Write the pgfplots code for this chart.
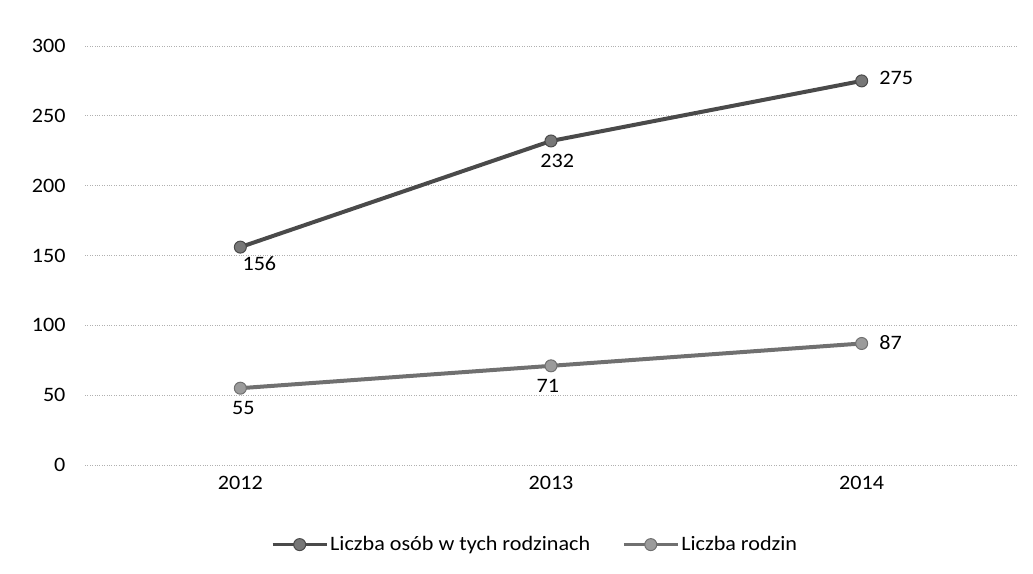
\documentclass[border=0pt]{standalone}
\usepackage{fontspec}
\setmainfont{Carlito}[FakeStretch=1.08]
\usepackage{pgfplots}
\pgfplotsset{compat=1.18}
\definecolor{lineA}{HTML}{4A4A4A}
\definecolor{lineB}{HTML}{707070}
\definecolor{gridc}{HTML}{B0B0B0}
\begin{document}
\begin{tikzpicture}
\useasboundingbox (0,0) rectangle (1033pt,573pt);
\begin{axis}[
  at={(85pt,108pt)}, anchor=south west,
  scale only axis,
  width=932pt, height=419pt,
  xmin=-0.5, xmax=2.5,
  ymin=0, ymax=300,
  ytick={0,50,...,300},
  xtick={0,1,2},
  xticklabels={2012,2013,2014},
  axis line style={draw=none},
  tick style={draw=none},
  ymajorgrids,
  grid style={gridc, dotted, line width=1pt},
  font=\fontsize{20.5}{24}\selectfont,
  /pgf/number format/assume math mode=true,
  yticklabel style={xshift=-16pt},
  xticklabel style={yshift=-8pt},
  legend style={at={(0.483,-0.19)}, anchor=center, draw=none, fill=none,
    legend columns=2, font=\fontsize{20.5}{24}\selectfont,
    /tikz/every even column/.append style={column sep=30pt}},
  legend cell align=left,
  legend image code/.code={%
    \draw[mark repeat=2, mark phase=2, line width=3pt] plot coordinates {(0pt,0pt) (27pt,0pt) (54pt,0pt)};},
  clip=false,
]
\addplot[lineA, line width=4pt, mark=*, mark size=6pt, mark options={fill=lineA!75, draw=lineA, line width=1pt}]
  coordinates {(0,156) (1,232) (2,275)};
\addlegendentry{Liczba osób w tych rodzinach}
\addplot[lineB, line width=4pt, mark=*, mark size=6pt, mark options={fill=lineB!70, draw=lineB, line width=1pt}]
  coordinates {(0,55) (1,71) (2,87)};
\addlegendentry{Liczba rodzin}
\node[anchor=north west, inner sep=2pt] at (axis cs:0,151) {156};
\node[anchor=north, inner sep=2pt] at (axis cs:1.02,224) {232};
\node[anchor=west, inner sep=2pt] at (axis cs:2.05,277) {275};
\node[anchor=north, inner sep=2pt] at (axis cs:0.01,47) {55};
\node[anchor=north, inner sep=2pt] at (axis cs:0.99,63) {71};
\node[anchor=west, inner sep=2pt] at (axis cs:2.05,88) {87};
\end{axis}
\end{tikzpicture}
\end{document}
